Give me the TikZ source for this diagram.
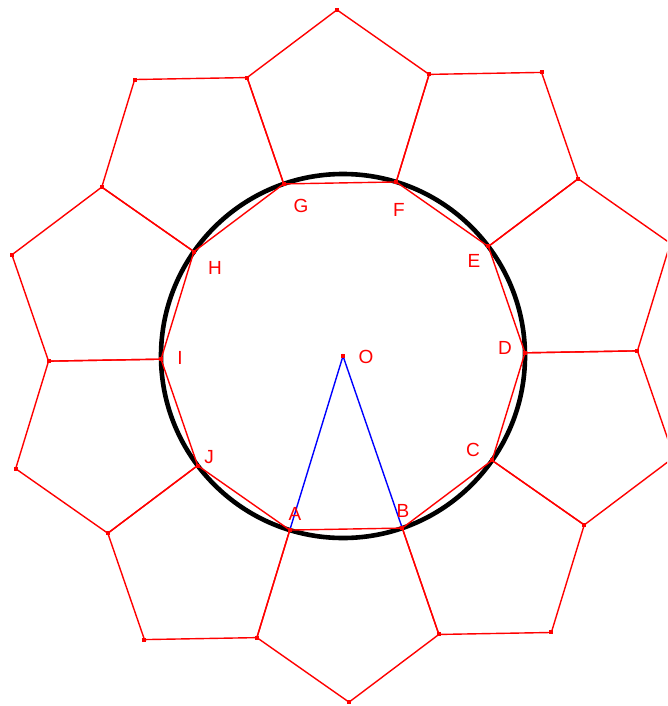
\documentclass[tikz,border=0pt]{standalone}
\usepackage{fontspec}
\setmainfont{Liberation Sans}
\usetikzlibrary{calc}
\begin{document}
\begin{tikzpicture}[x=1pt,y=1pt,
  edge/.style={red, line width=1.4pt, line join=round},
  radiusline/.style={blue, line width=1.4pt},
  rim/.style={black, line width=4.6pt},
  dot/.style={fill=red, draw=none, inner sep=0pt, minimum size=4pt, rectangle},
  lab/.style={text=red, font=\fontsize{19}{19}\selectfont, inner sep=0pt}]
\useasboundingbox (0,0) rectangle (667,-706);
\clip (0,0) rectangle (667,-706);
\coordinate (O) at (343,-356);
\foreach \n [count=\k from 0] in {A,B,C,D,E,F,G,H,I,J}
  \coordinate (\n) at ($(O)+({-107+36*\k}:182)$);
\draw[rim] (O) circle (182);
\foreach \p/\q in {A/B,B/C,C/D,D/E,E/F,F/G,G/H,H/I,I/J,J/A} {
  \coordinate (\p\q3) at ($(\q)!1!108:(\p)$);
  \coordinate (\p\q4) at ($(\p\q3)!1!108:(\q)$);
  \coordinate (\p\q5) at ($(\p)!1!-108:(\q)$);
  \draw[edge] (\p) -- (\q) -- (\p\q3) -- (\p\q4) -- (\p\q5) -- cycle;
}
\draw[radiusline] (A) -- (O) -- (B);
\foreach \p/\q in {A/B,B/C,C/D,D/E,E/F,F/G,G/H,H/I,I/J,J/A} {
  \node[dot] at (\p) {};
  \node[dot] at (\p\q3) {};
  \node[dot] at (\p\q4) {};
  \node[dot] at (\p\q5) {};
}
\node[dot] at (O) {};
\node[lab] (lA) at (295,-514) {A};
\node[lab] (lB) at (403,-511) {B};
\node[lab] (lC) at (473,-450) {C};
\node[lab] (lD) at (505,-348) {D};
\node[lab] (lE) at (474,-261) {E};
\node[lab] (lF) at (399,-210) {F};
\node[lab] (lG) at (301,-206) {G};
\node[lab] (lH) at (215,-268) {H};
\node[lab] (lI) at (180,-358) {I};
\node[lab] (lJ) at (209,-457) {J};
\node[lab] (lO) at (366,-357) {O};
\end{tikzpicture}
\end{document}
